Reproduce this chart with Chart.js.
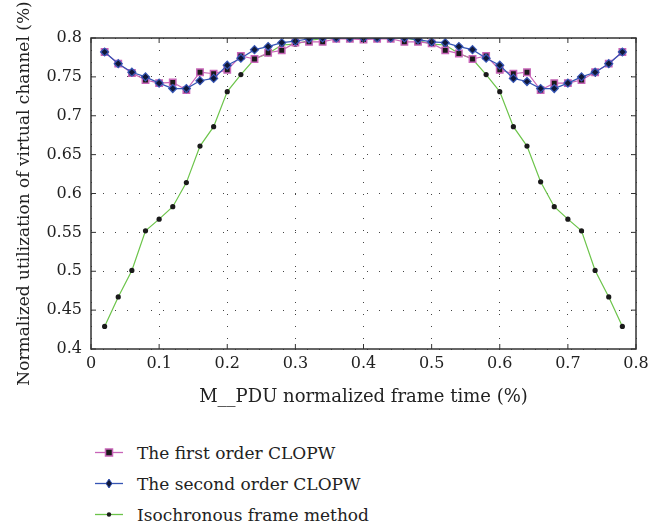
<!DOCTYPE html>
<html>
<head>
<meta charset="utf-8">
<script src="https://cdn.jsdelivr.net/npm/chart.js@4"></script>
<style>
  html, body { margin: 0; padding: 0; background: #fff; }
  #wrap { position: relative; width: 670px; height: 527px; }
  #chart { position: absolute; left: 0; top: 0; }
  #legend { position: absolute; left: 95px; top: 437px; font-family: "DejaVu Serif", serif; font-size: 17px; color: #222; }
  .legend-item { display: flex; align-items: center; height: 31px; }
  .legend-item svg { margin-right: 14px; }
</style>
</head>
<body>
<div id="wrap">
  <canvas id="chart" width="670" height="420"></canvas>
  <div id="legend"></div>
</div>
<script>
// ─────────────────────────────────────────────
// Data
// ─────────────────────────────────────────────
const frameTime = [
  0.02, 0.04, 0.06, 0.08, 0.10, 0.12, 0.14, 0.16, 0.18, 0.20,
  0.22, 0.24, 0.26, 0.28, 0.30, 0.32, 0.34, 0.36, 0.38, 0.40,
  0.42, 0.44, 0.46, 0.48, 0.50, 0.52, 0.54, 0.56, 0.58, 0.60,
  0.62, 0.64, 0.66, 0.68, 0.70, 0.72, 0.74, 0.76, 0.78,
];

const firstOrder = [
  0.782, 0.767, 0.755, 0.746, 0.742, 0.743, 0.733, 0.756, 0.754, 0.759,
  0.777, 0.773, 0.781, 0.784, 0.794, 0.795, 0.795, 0.799, 0.799, 0.798,
  0.799, 0.799, 0.795, 0.795, 0.793, 0.784, 0.780, 0.773, 0.777, 0.759,
  0.754, 0.756, 0.733, 0.742, 0.742, 0.746, 0.756, 0.767, 0.782,
];

const secondOrder = [
  0.782, 0.767, 0.756, 0.750, 0.742, 0.735, 0.735, 0.745, 0.748, 0.765,
  0.774, 0.785, 0.789, 0.794, 0.796, 0.799, 0.800, 0.800, 0.800, 0.800,
  0.800, 0.800, 0.800, 0.798, 0.795, 0.794, 0.789, 0.785, 0.774, 0.765,
  0.748, 0.744, 0.735, 0.735, 0.742, 0.750, 0.756, 0.767, 0.782,
];

const isochronous = [
  0.429, 0.467, 0.501, 0.552, 0.567, 0.583, 0.614, 0.661, 0.686, 0.731,
  0.753, 0.773, 0.780, 0.791, 0.792, 0.797, 0.799, 0.800, 0.800, 0.800,
  0.800, 0.800, 0.800, 0.797, 0.792, 0.791, 0.780, 0.773, 0.753, 0.731,
  0.686, 0.661, 0.615, 0.583, 0.567, 0.552, 0.501, 0.467, 0.429,
];

const xTicks = [0, 0.1, 0.2, 0.3, 0.4, 0.5, 0.6, 0.7, 0.8];
const yTicks = [0.4, 0.45, 0.5, 0.55, 0.6, 0.65, 0.7, 0.75, 0.8];

const seriesNames = [
  'The first order CLOPW',
  'The second order CLOPW',
  'Isochronous frame method',
];

// ─────────────────────────────────────────────
// Styling
// ─────────────────────────────────────────────
const FONT = '"DejaVu Serif", "Liberation Serif", serif';
const TEXT = '#222';
const PINK = '#c865b8';
const BLUE = '#3555b5';
const GREEN = '#6cc44a';

function toPoints(values) {
  return values.map((y, i) => ({ x: frameTime[i], y }));
}

function fmt(v) {
  return String(Number(v.toFixed(2)));
}

// frame + inward tick marks
const framePlugin = {
  id: 'frame',
  afterDraw(chart) {
    const { ctx, chartArea: a, scales } = chart;
    ctx.save();
    ctx.strokeStyle = '#333';
    ctx.lineWidth = 1.5;
    ctx.strokeRect(a.left, a.top, a.right - a.left, a.bottom - a.top);
    ctx.lineWidth = 1;
    ctx.beginPath();
    xTicks.forEach((v) => {
      const px = scales.x.getPixelForValue(v);
      ctx.moveTo(px, a.bottom); ctx.lineTo(px, a.bottom - 5);
      ctx.moveTo(px, a.top);    ctx.lineTo(px, a.top + 5);
    });
    yTicks.forEach((v) => {
      const py = scales.y.getPixelForValue(v);
      ctx.moveTo(a.left, py);  ctx.lineTo(a.left + 5, py);
      ctx.moveTo(a.right, py); ctx.lineTo(a.right - 5, py);
    });
    ctx.stroke();
    ctx.restore();
  },
};

const grid = {
  color: '#444',
  lineWidth: 1,
  drawTicks: false,
};

const chart = new Chart(document.getElementById('chart'), {
  type: 'line',
  data: {
    datasets: [
      {
        label: seriesNames[0],
        data: toPoints(firstOrder),
        borderColor: PINK,
        borderWidth: 1.2,
        pointStyle: 'rect',
        pointRadius: 4.5,
        pointBackgroundColor: '#1a1a1a',
        pointBorderColor: PINK,
        pointBorderWidth: 1.5,
        order: 1,
      },
      {
        label: seriesNames[1],
        data: toPoints(secondOrder),
        borderColor: BLUE,
        borderWidth: 1.2,
        pointStyle: 'rectRot',
        pointRadius: 4,
        pointBackgroundColor: '#101838',
        pointBorderColor: BLUE,
        pointBorderWidth: 1.2,
        order: 0,
      },
      {
        label: seriesNames[2],
        data: toPoints(isochronous),
        borderColor: GREEN,
        borderWidth: 1.2,
        pointStyle: 'circle',
        pointRadius: 2.6,
        pointBackgroundColor: '#1a1a1a',
        pointBorderColor: '#1a1a1a',
        pointBorderWidth: 0,
        order: 2,
      },
    ],
  },
  options: {
    responsive: false,
    animation: false,
    layout: { padding: { left: 0, top: 38, right: 34, bottom: 0 } },
    plugins: { legend: { display: false }, tooltip: { enabled: false } },
    scales: {
      x: {
        type: 'linear',
        min: 0,
        max: 0.8,
        afterBuildTicks: (axis) => { axis.ticks = xTicks.map((value) => ({ value })); },
        afterFit: (axis) => { axis.height = 71; },
        grid: { ...grid, borderDash: [1, 11] },
        border: { display: false, dash: [1, 11] },
        ticks: { padding: 5, color: TEXT, font: { family: FONT, size: 16 }, maxRotation: 0, callback: fmt },
        title: {
          display: true,
          text: 'M__PDU normalized frame time (%)',
          color: TEXT,
          font: { family: FONT, size: 18 },
          padding: { top: 0, bottom: 12 },
        },
      },
      y: {
        min: 0.4,
        max: 0.8,
        afterBuildTicks: (axis) => { axis.ticks = yTicks.map((value) => ({ value })); },
        afterFit: (axis) => { axis.width = 91; },
        grid: { ...grid },
        border: { display: false, dash: [1, 11] },
        ticks: { padding: 9, color: TEXT, font: { family: FONT, size: 16 }, callback: fmt },
        title: {
          display: true,
          text: 'Normalized utilization of virtual channel (%)',
          color: TEXT,
          font: { family: FONT, size: 17 },
          padding: { top: 14, bottom: 0 },
        },
      },
    },
  },
  plugins: [framePlugin],
});

// ─────────────────────────────────────────────
// HTML legend (stacked vertically under the plot)
// ─────────────────────────────────────────────
function markerSvg(ds) {
  const c = 14;
  let mark = '';
  if (ds.pointStyle === 'rect') {
    mark = `<rect x="${c - 3.5}" y="6" width="7" height="7" fill="${ds.pointBackgroundColor}" stroke="${ds.pointBorderColor}" stroke-width="1.5"/>`;
  } else if (ds.pointStyle === 'rectRot') {
    mark = `<polygon points="${c},5 ${c + 3},9.5 ${c},14 ${c - 3},9.5" fill="${ds.pointBackgroundColor}" stroke="${ds.pointBorderColor}" stroke-width="1"/>`;
  } else {
    mark = `<circle cx="${c}" cy="9.5" r="2.2" fill="${ds.pointBackgroundColor}"/>`;
  }
  return `<svg width="28" height="19"><line x1="0" y1="9.5" x2="28" y2="9.5" stroke="${ds.borderColor}" stroke-width="1.3"/>${mark}</svg>`;
}

document.getElementById('legend').innerHTML = chart.data.datasets
  .map((ds) => `<div class="legend-item">${markerSvg(ds)}<span>${ds.label}</span></div>`)
  .join('');
</script>
</body>
</html>
